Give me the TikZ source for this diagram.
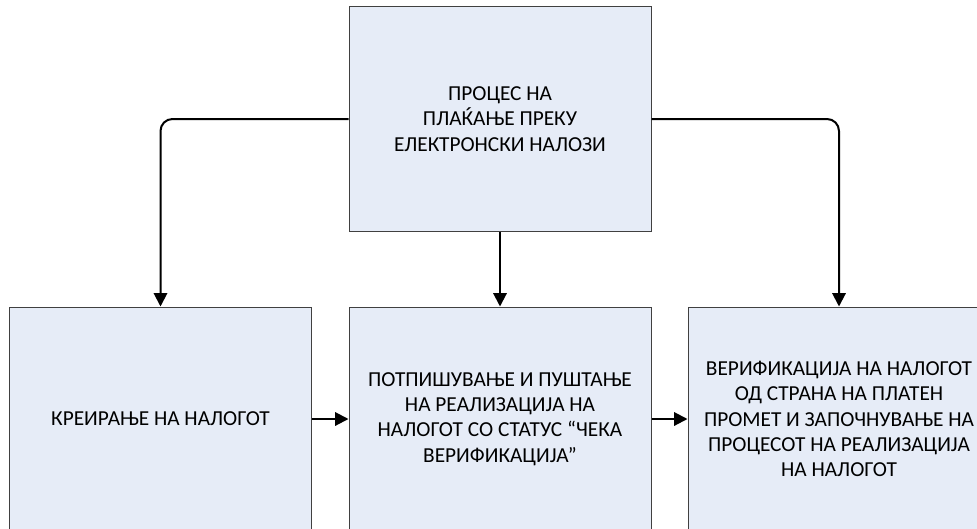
\documentclass[tikz,border=0pt]{standalone}
\usepackage{fontspec}
\setmainfont{Carlito}
\usepackage{tikz}
\usetikzlibrary{arrows.meta}

\definecolor{boxfill}{RGB}{230,236,247}
\definecolor{boxline}{RGB}{64,64,64}

\begin{document}
\begin{tikzpicture}[x=0.75pt,y=0.75pt,yscale=-1,xscale=1,
  procbox/.style={draw=boxline,line width=0.75pt,fill=boxfill,minimum width=226.5pt,minimum height=168pt,inner sep=0pt,align=center,font=\fontsize{16}{19}\selectfont},
  flow/.style={line width=1.5pt,-{Triangle[length=10pt,width=10pt]}}]
%set diagram left start at 0, and has height of 528
\useasboundingbox (0,0) rectangle (977,528);
\clip (0,0) rectangle (977,528);

% Text Node
\node [procbox] (proc) at (500,119) {ПРОЦЕС НА\\ПЛАЌАЊЕ ПРЕКУ\\ЕЛЕКТРОНСКИ НАЛОЗИ};
% Text Node
\node [procbox] (create) at (160.5,419) {КРЕИРАЊЕ НА НАЛОГОТ};
% Text Node
\node [procbox] (sign) at (500,419) {ПОТПИШУВАЊЕ И ПУШТАЊЕ\\НА РЕАЛИЗАЦИЈА НА\\НАЛОГОТ СО СТАТУС “ЧЕКА\\ВЕРИФИКАЦИЈА”};
% Text Node
\node [procbox] (verify) at (839,419) {ВЕРИФИКАЦИЈА НА НАЛОГОТ\\ОД СТРАНА НА ПЛАТЕН\\ПРОМЕТ И ЗАПОЧНУВАЊЕ НА\\ПРОЦЕСОТ НА РЕАЛИЗАЦИЈА\\НА НАЛОГОТ};

%Straight Lines
\draw [flow,rounded corners=9pt] (proc.west) -| (create.north);
%Straight Lines
\draw [flow] (proc.south) -- (sign.north);
%Straight Lines
\draw [flow,rounded corners=9pt] (proc.east) -| (verify.north);
%Straight Lines
\draw [flow] (create.east) -- (sign.west);
%Straight Lines
\draw [flow] (sign.east) -- (verify.west);

\end{tikzpicture}
\end{document}
